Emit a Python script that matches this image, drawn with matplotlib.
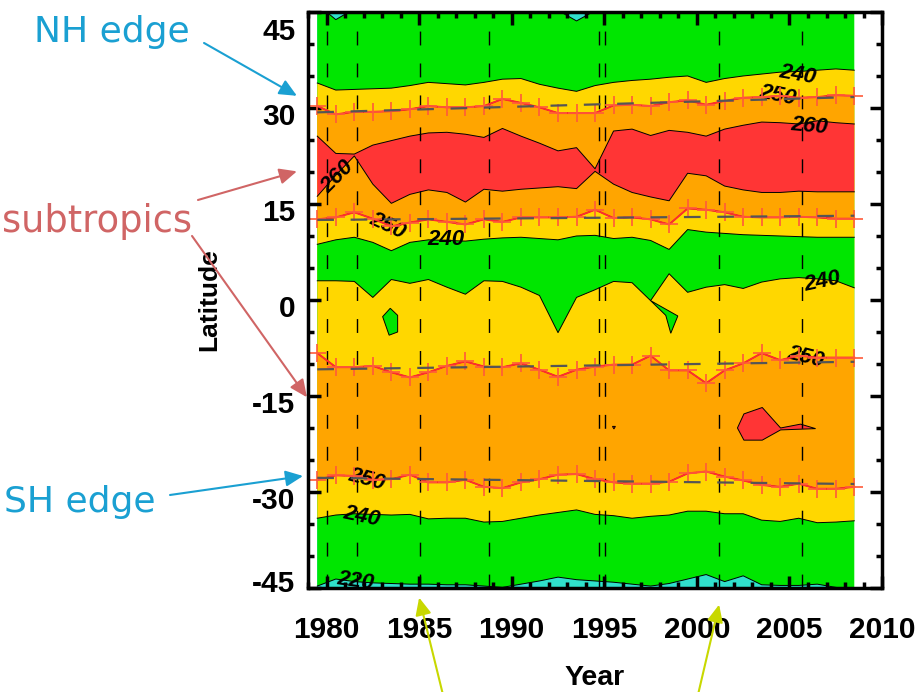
import matplotlib
matplotlib.use("Agg")
import matplotlib.pyplot as plt
import numpy as np
from matplotlib.ticker import MultipleLocator
from matplotlib.transforms import ScaledTranslation

plt.rcParams["font.family"] = ["Liberation Sans", "DejaVu Sans"]
plt.rcParams["axes.unicode_minus"] = False

# annual means, plotted at mid-year
years = np.arange(1979.5, 2009.0, 1.0)

# latitude (deg) where the annual OLR field crosses each contour level, north to south
lat_220_n = [46.2, 43.8, 45.5, 46.0, 46.0, 46.0, 46.0, 46.0, 46.0, 46.0,
             46.0, 46.0, 46.0, 45.25, 43.6, 45.2, 46.0, 46.0, 46.0, 46.0,
             46.0, 46.0, 46.0, 46.0, 46.0, 46.0, 46.0, 46.0, 46.0, 46.0]
lat_240_n = [33.9, 32.8, 32.9, 33.0, 33.1, 33.5, 34.0, 33.8, 33.6, 34.0,
             34.5, 34.6, 33.7, 33.1, 32.6, 33.5, 34.0, 34.3, 34.5, 34.8,
             35.0, 34.0, 34.6, 35.0, 35.3, 35.6, 35.7, 35.9, 36.1, 35.9]
nh_edge = [30.3, 29.0, 29.4, 29.4, 29.5, 29.8, 30.3, 30.1, 30.1, 30.3,
           31.4, 30.8, 30.1, 29.2, 29.2, 29.2, 30.4, 30.5, 30.3, 30.9,
           31.2, 30.5, 31.1, 31.6, 31.7, 31.9, 31.6, 31.7, 32.0, 31.9]
lat_260_top = [25.6, 22.9, 22.8, 24.2, 24.9, 25.6, 26.1, 26.2, 25.9, 25.4,
               26.8, 25.6, 24.5, 23.3, 23.8, 20.5, 26.4, 26.7, 25.7, 26.5,
               26.2, 25.6, 26.7, 27.3, 27.8, 27.7, 27.5, 28.0, 27.7, 27.5]
lat_260_bot = [16.2, 19.5, 22.5, 18.1, 15.1, 16.5, 17.2, 16.8, 15.3, 17.3,
               17.0, 17.3, 17.5, 17.7, 17.4, 20.1, 18.1, 16.8, 16.1, 15.5,
               19.8, 19.4, 17.8, 17.2, 16.8, 16.8, 17.0, 16.9, 16.9, 16.9]
nh_sub_edge = [12.6, 12.9, 13.7, 12.7, 11.5, 12.1, 12.6, 12.2, 11.8, 12.6,
               12.2, 12.9, 12.9, 12.9, 13.0, 14.1, 12.8, 12.9, 12.6, 11.8,
               14.3, 14.1, 13.7, 13.0, 12.9, 12.9, 13.0, 12.9, 12.7, 12.7]
lat_240_sub = [8.7, 9.4, 9.8, 9.0, 7.7, 9.0, 9.4, 9.3, 9.2, 9.5,
               9.7, 9.8, 9.6, 9.4, 10.0, 10.1, 9.6, 9.8, 9.3, 7.9,
               11.0, 10.6, 10.4, 10.2, 10.1, 10.0, 9.9, 9.8, 9.8, 9.8]
lat_240_eq = [3.0, 3.0, 2.9, 0.4, 3.2, 2.6, 3.2, 2.0, 0.9, 3.0,
              2.9, 2.0, 0.7, -5.1, 0.4, 1.6, 2.9, 2.7, -0.1, 4.1,
              1.2, 2.0, 2.4, 1.8, 2.8, 3.3, 3.5, 3.3, 3.0, 1.9]
sh_sub_edge = [-8.3, -10.5, -10.5, -10.3, -11.3, -12.1, -11.3, -10.3, -9.6, -10.4,
               -10.5, -9.9, -10.9, -12.0, -10.9, -10.4, -10.1, -10.1, -8.7, -11.0,
               -11.0, -13.0, -11.0, -9.9, -8.3, -9.4, -8.7, -9.0, -9.0, -9.0]
sh_edge = [-28.1, -27.4, -27.5, -28.1, -28.0, -27.3, -28.5, -28.5, -28.1, -29.2,
           -29.4, -28.5, -28.0, -27.3, -27.2, -28.0, -28.5, -28.7, -28.7, -28.4,
           -27.1, -26.8, -27.6, -28.2, -28.9, -29.2, -28.7, -29.5, -29.5, -29.2]
lat_240_s = [-34.1, -33.6, -33.4, -33.5, -33.6, -33.5, -34.2, -34.1, -34.1, -34.7,
             -34.6, -34.1, -33.6, -33.2, -32.8, -33.5, -33.7, -34.1, -33.8, -33.6,
             -33.0, -33.0, -33.4, -33.4, -34.4, -34.6, -34.1, -34.8, -34.7, -34.5]
lat_220_s = [-44.7, -43.6, -44.0, -44.2, -44.3, -44.4, -44.4, -44.5, -44.5, -44.7,
             -44.9, -44.4, -43.9, -43.3, -43.7, -43.9, -44.1, -44.4, -44.7, -44.3,
             -43.6, -42.9, -44.0, -43.1, -44.5, -44.6, -44.6, -44.4, -44.9, -45.2]

# closed contours (year, latitude)
green_patch_yr = [1983.44, 1983.84, 1983.84, 1983.38, 1983.03]
green_patch_lat = [-1.3, -2.4, -5.0, -5.5, -2.6]
green_tongue_yr = [1997.5, 1998.97, 1998.59, 1998.32]
green_tongue_lat = [-0.1, -2.5, -5.2, -2.4]
red_patch_yr = [2002.19, 2002.54, 2003.53, 2004.52, 2005.6, 2006.41, 2004.52, 2003.53, 2002.54]
red_patch_lat = [-20.0, -17.8, -16.8, -20.0, -19.4, -20.1, -20.3, -21.9, -21.9]
red_dot_yr = [1995.44, 1995.6, 1995.52]
red_dot_lat = [-19.75, -19.75, -20.15]

# instrument changes
change_years = [1980.0, 1981.65, 1985.05, 1988.8, 1994.7, 1995.05, 2001.2, 2005.65]

# contour labels
clab_text = ["240", "250", "260", "260", "250", "240", "240", "250", "250", "240", "220"]
clab_year = [2005.44, 2004.36, 2006.07, 1980.62, 1983.31, 1986.44, 2006.79, 2005.87, 1982.18, 1981.91, 1981.58]
clab_lat = [35.2, 31.9, 27.2, 19.2, 11.6, 9.4, 2.8, -8.9, -28.1, -33.9, -44.0]
clab_rot = [-10, -12, -5, 45, -25, 0, 12, -14, -15, -12, -8]

cyan, green, yellow, orange, red = "#30e0cc", "#00e600", "#ffd700", "#ffa500", "#ff3535"

fig = plt.figure(figsize=(9.17, 6.92), dpi=100)
ax = fig.add_axes([0.3359, 0.1503, 0.6260, 0.8324])
ax.set_xlim(1979, 2010)
ax.set_ylim(-45, 45)


def band(lo, hi, color):
    ax.fill_between(years, lo, hi, facecolor=color, edgecolor="none", lw=0, zorder=1)


# filled contours, layered from the outside in
band(-50, 50, cyan)
band(lat_220_s, lat_220_n, green)
band(lat_240_s, lat_240_n, yellow)
band(nh_sub_edge, nh_edge, orange)
band(sh_edge, sh_sub_edge, orange)
band(lat_240_eq, lat_240_sub, green)
band(lat_260_bot, lat_260_top, red)
ax.fill(green_patch_yr, green_patch_lat, facecolor=green, edgecolor="k", lw=0.7, zorder=2)
ax.fill(green_tongue_yr, green_tongue_lat, facecolor=green, edgecolor="k", lw=0.7, zorder=2)
ax.fill(red_patch_yr, red_patch_lat, facecolor=red, edgecolor="k", lw=0.7, zorder=2)
ax.fill(red_dot_yr, red_dot_lat, facecolor=red, edgecolor="k", lw=0.7, zorder=2)

for line in [lat_220_n, lat_240_n, nh_edge, lat_260_top, lat_260_bot, nh_sub_edge,
             lat_240_sub, lat_240_eq, sh_sub_edge, sh_edge, lat_240_s, lat_220_s]:
    ax.plot(years, line, color="k", lw=0.7, zorder=2)

for yr in change_years:
    ax.axvline(yr, color="k", lw=1.0, dashes=(10, 13), zorder=3)

for t, x, y, r in zip(clab_text, clab_year, clab_lat, clab_rot):
    ax.text(x, y, t, rotation=r, ha="center", va="center", fontsize=16,
            fontweight="bold", fontstyle="italic", zorder=4, clip_on=True)

# tropical edges and their linear trends
for edge in [nh_edge, nh_sub_edge, sh_sub_edge, sh_edge]:
    ax.plot(years, edge, color="#ff2d2d", lw=1.4, marker="+", ms=13, mew=1.2,
            mec="#ff5a3a", zorder=5)
    fit = np.polyfit(years, edge, 1)
    ax.plot(years, np.polyval(fit, years), color="#555555", lw=1.6,
            dashes=(7.5, 7.5), zorder=6)

# axes styling
for s in ax.spines.values():
    s.set_linewidth(2.5)
    s.set_zorder(10)
ax.set_xticks([1980, 1985, 1990, 1995, 2000, 2005, 2010])
ax.set_yticks([45, 30, 15, 0, -15, -30, -45])
ax.xaxis.set_minor_locator(MultipleLocator(1))
ax.yaxis.set_minor_locator(MultipleLocator(5))
ax.tick_params(which="both", direction="in", top=True, right=True, width=2.5)
ax.tick_params(which="major", length=9)
ax.tick_params(which="minor", length=4)
ax.tick_params(axis="x", which="major", pad=20, labelsize=21.5)
ax.tick_params(axis="y", which="major", pad=9, labelsize=21.5)
for lab in ax.get_xticklabels() + ax.get_yticklabels():
    lab.set_fontweight("bold")

# nudge latitude labels down (the end labels stay inside the frame)
label_shift = {"45": -12, "-45": 5}
for lab in ax.get_yticklabels():
    dy = label_shift.get(lab.get_text(), -4.5)
    lab.set_transform(lab.get_transform() + ScaledTranslation(0, dy / 72, fig.dpi_scale_trans))

ax.set_xlabel("Year", fontsize=20.5, fontweight="bold")
ax.xaxis.set_label_coords(0.5, -0.134)
ax.set_ylabel("Latitude", fontsize=19, fontweight="bold")
ax.yaxis.set_label_coords(-0.152, 0.5)

# callouts
blue, rose, lime = "#1aa0d2", "#d06565", "#c8d800"
fig.text(0.037, 0.9393, "NH edge", color=blue, fontsize=26, family="DejaVu Sans")
fig.text(0.002, 0.6647, "subtropics", color=rose, fontsize=26.5, family="DejaVu Sans")
fig.text(0.004, 0.2601, "SH edge", color=blue, fontsize=26, family="DejaVu Sans")

arrows = [
    ((1978.40, 31.9), (0.2225, 0.9379), blue),
    ((1978.40, 20.1), (0.2159, 0.7110), rose),
    ((1978.94, -15.2), (0.2094, 0.6590), rose),
    ((1978.73, -27.5), (0.1854, 0.2847), blue),
    ((1985.0, -46.5), (0.4842, -0.01), lime),
    ((2001.2, -47.6), (0.7601, -0.01), lime),
]
for tip, start, col in arrows:
    ax.annotate("", xy=tip, xycoords="data", xytext=start, textcoords="figure fraction",
                arrowprops=dict(arrowstyle="-|>,head_length=0.7,head_width=0.32",
                                mutation_scale=15, color=col, lw=1.5,
                                shrinkA=0, shrinkB=0),
                annotation_clip=False)

fig.savefig("out.png", dpi=100)
